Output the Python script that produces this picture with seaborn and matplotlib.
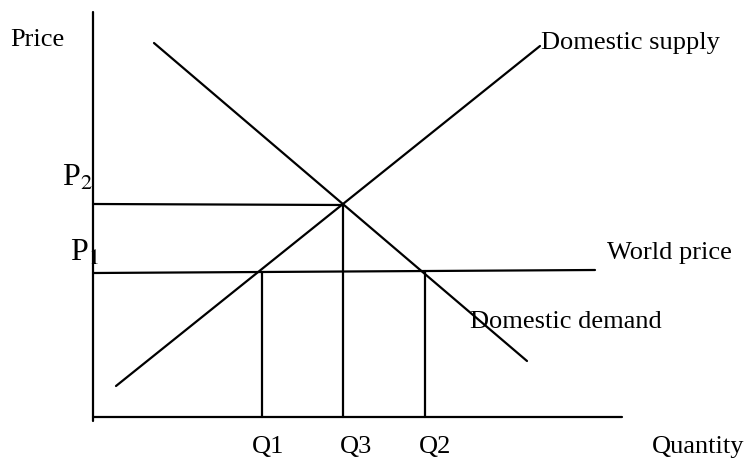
import numpy as np
import pandas as pd
import matplotlib
matplotlib.use('Agg')
import matplotlib.pyplot as plt
import seaborn as sns

# units: 1 = 10 px, origin at axes corner
supply_q = [2.3, 44.7]
supply_p = [3.1, 37.1]
demand_q = [6.1, 43.4]
demand_p = [37.4, 5.6]
world_q = [0.1, 50.2]
world_p = [14.4, 14.7]
p2_q = [0.1, 25.0]
p2_p = [21.3, 21.2]
quantities = [16.9, 25.0, 33.2]      # Q1, Q3, Q2
q_tops = [14.5, 21.2, 14.6]
q_labels = ['Q1', 'Q3', 'Q2']
q_label_x = [17.5, 26.3, 34.2]
yaxis_top = 40.5
xaxis_end = 52.9

sns.set_theme(style='white')
plt.rcParams['font.family'] = ['Liberation Serif', 'DejaVu Serif']
plt.rcParams['mathtext.fontset'] = 'stix'
plt.rcParams['text.color'] = 'black'

fig = plt.figure(figsize=(7.44, 4.61), dpi=100)
ax = fig.add_axes([0, 0, 1, 1])
ax.set_xlim(-9.3, 65.1)
ax.set_ylim(-4.4, 41.7)
ax.axis('off')

lw = 1.6
kw = dict(color='black', linewidth=lw, ax=ax, estimator=None, sort=False, legend=False)

# axes
sns.lineplot(x=[0, 0], y=[-0.4, yaxis_top], **kw)
sns.lineplot(x=[0, xaxis_end], y=[0, 0], **kw)

# curves
sns.lineplot(x=supply_q, y=supply_p, **kw)
sns.lineplot(x=demand_q, y=demand_p, **kw)
sns.lineplot(x=world_q, y=world_p, **kw)
sns.lineplot(x=p2_q, y=p2_p, **kw)

for q, top in zip(quantities, q_tops):
    sns.lineplot(x=[q, q], y=[0, top], **kw)

fs = 19
ax.text(-8.3, 37.7, 'Price', fontsize=fs, va='center')
ax.text(44.8, 37.4, 'Domestic supply', fontsize=fs, va='center')
ax.text(51.4, 16.4, 'World price', fontsize=fs, va='center')
ax.text(37.7, 9.5, 'Domestic demand', fontsize=fs, va='center')
for x, lab in zip(q_label_x, q_labels):
    ax.text(x, -3.0, lab, fontsize=fs, ha='center', va='center')
ax.text(55.9, -3.0, 'Quantity', fontsize=fs, va='center')

ax.text(-3.1, 23.1, r'P$_2$', fontsize=23, va='baseline')
ax.text(-2.3, 15.6, r'P$_1$', fontsize=23, va='baseline')

fig.savefig('out.png', dpi=100)
